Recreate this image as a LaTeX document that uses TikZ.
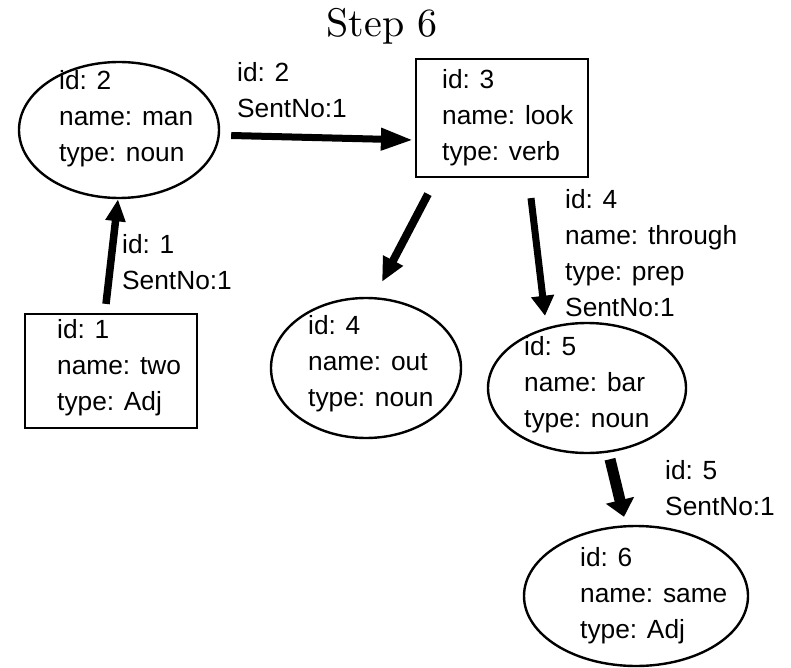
\documentclass[tikz,border=0pt]{standalone}
\usepackage{fontspec}
\newfontfamily\labelfont{Liberation Sans}
\newfontfamily\titlefont[Extension=.otf]{lmroman10-regular}
\usetikzlibrary{shapes.geometric,arrows.meta,calc}

\begin{document}
\begin{tikzpicture}[x=1pt,y=1pt,
  lbl/.style={font=\labelfont\fontsize{26.3}{36}\selectfont, align=left, inner sep=0pt, anchor=west},
  ovalbox/.style={draw, ellipse, line width=2.4pt, inner sep=0pt},
  rectbox/.style={draw, rectangle, line width=2.2pt, inner sep=0pt},
]
\useasboundingbox (0,0) rectangle (791,-668);

% title
\node[font=\titlefont\fontsize{40}{48}\selectfont, anchor=base, inner sep=0pt] (title) at (382,-37) {Step 6};

% word nodes
\node[ovalbox, minimum width=200pt, minimum height=136pt] (man) at (119,-130) {};
\node[rectbox, minimum width=172pt, minimum height=118pt] (look) at (502,-118) {};
\node[rectbox, minimum width=172pt, minimum height=114pt] (two) at (111,-371) {};
\node[ovalbox, minimum width=190pt, minimum height=140pt] (out) at (366,-368) {};
\node[ovalbox, minimum width=198pt, minimum height=130pt] (bar) at (587,-388) {};
\node[ovalbox, minimum width=224pt, minimum height=140pt] (same) at (636,-596) {};

% node contents
\node[lbl] (mantext) at (59,-119) {id: 2\\name: man\\type: noun};
\node[lbl] (looktext) at (442,-118) {id: 3\\name: look\\type: verb};
\node[lbl] (twotext) at (57,-368) {id: 1\\name: two\\type: Adj};
\node[lbl] (outtext) at (308,-364) {id: 4\\name: out\\type: noun};
\node[lbl] (bartext) at (524,-385) {id: 5\\name: bar\\type: noun};
\node[lbl] (sametext) at (580,-596) {id: 6\\name: same\\type: Adj};

% edge labels
\node[lbl] (e1) at (237,-90) {id: 2\\SentNo:1};
\node[lbl] (e2) at (122,-262) {id: 1\\SentNo:1};
\node[lbl] (e3) at (565,-253) {id: 4\\name: through\\type: prep\\SentNo:1};
\node[lbl] (e4) at (665,-488) {id: 5\\SentNo:1};

% connectors
\draw[line width=7pt, -{Triangle[length=32pt,width=21pt]}]
  ($(man.east)+(11,-5.5)$) -- ($(look.west)+(-2,-22)$);
\draw[line width=7.5pt, -{Triangle[length=22pt,width=19pt]}]
  ($(two.north)+(-5,9)$) -- ($(man.south)+(-1,0)$);
\draw[line width=8pt, -{Triangle[length=24pt,width=21pt]}]
  ($(look.south)+(-74,-16)$) -- ($(out.north)+(16,15)$);
\draw[line width=7pt, -{Triangle[length=20pt,width=22pt]}]
  ($(look.south)+(29,-20)$) -- ($(bar.north)+(-42,6)$);
\draw[line width=11pt, -{Triangle[length=17pt,width=28pt]}]
  ($(bar.south)+(23,-5)$) -- ($(same.north)+(-12,8)$);
\end{tikzpicture}
\end{document}
